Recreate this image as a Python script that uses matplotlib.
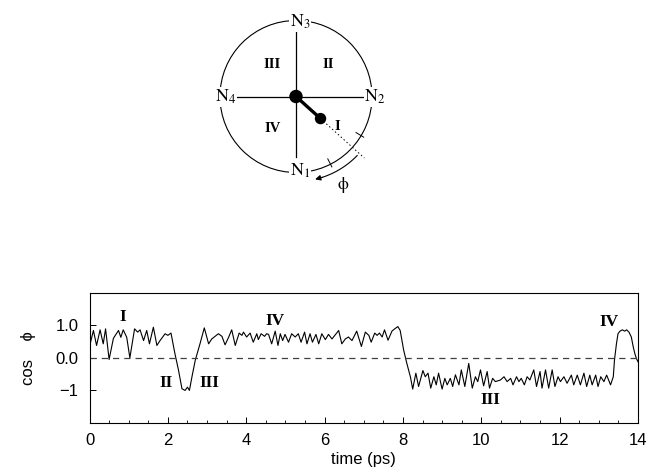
import numpy as np
import matplotlib
matplotlib.use("Agg")
import matplotlib.pyplot as plt
from matplotlib.patches import Circle
from matplotlib.ticker import MultipleLocator

plt.rcParams["font.family"] = ["Liberation Sans", "DejaVu Sans"]
plt.rcParams["mathtext.fontset"] = "stix"

# ---------------- data ----------------
time_ps = [
    0.00, 0.10, 0.18, 0.27, 0.35, 0.41, 0.50, 0.61, 0.74, 0.80, 0.86, 0.95,
    1.03, 1.15, 1.23, 1.29, 1.38, 1.46, 1.53, 1.63, 1.72, 1.80, 1.93, 2.00,
    2.08, 2.18, 2.27, 2.36, 2.44, 2.50, 2.55, 2.62, 2.70, 2.82, 2.93, 3.04,
    3.12, 3.29, 3.38, 3.46, 3.55, 3.63, 3.72, 3.82, 3.89, 3.93, 4.01, 4.10,
    4.18, 4.27, 4.31, 4.38, 4.47, 4.52, 4.57, 4.65, 4.74, 4.81, 4.87, 4.93,
    4.99, 5.08, 5.16, 5.25, 5.33, 5.40, 5.49, 5.55, 5.63, 5.69, 5.78, 5.85,
    5.93, 6.02, 6.10, 6.19, 6.36, 6.44, 6.53, 6.61, 6.70, 6.82, 6.94, 7.04,
    7.13, 7.19, 7.28, 7.34, 7.40, 7.47, 7.53, 7.62, 7.72, 7.79, 7.87, 7.93,
    8.02, 8.10, 8.19, 8.25, 8.33, 8.40, 8.51, 8.57, 8.64, 8.71, 8.79, 8.85,
    8.91, 9.00, 9.07, 9.13, 9.21, 9.27, 9.34, 9.43, 9.49, 9.58, 9.68, 9.77,
    9.85, 9.91, 9.98, 10.06, 10.15, 10.21, 10.29, 10.36, 10.49, 10.58, 10.66,
    10.75, 10.81, 10.90, 10.96, 11.02, 11.10, 11.17, 11.24, 11.34, 11.41,
    11.50, 11.55, 11.64, 11.72, 11.81, 11.88, 11.96, 12.02, 12.11, 12.19,
    12.30, 12.36, 12.45, 12.53, 12.62, 12.69, 12.77, 12.83, 12.92, 12.98,
    13.05, 13.13, 13.20, 13.30, 13.37, 13.40, 13.45, 13.49, 13.54, 13.60,
    13.66, 13.71, 13.77, 13.83, 13.88, 13.92, 13.96, 14.00,
]
cos_phi = [
    0.35, 0.84, 0.38, 0.86, 0.43, 0.89, -0.05, 0.60, 0.84, 0.63, 0.86, 0.63,
    0.00, 0.89, 0.79, 0.86, 0.53, 0.84, 0.43, 0.94, 0.38, 0.53, 0.74, 0.69,
    0.76, 0.13, -0.37, -0.95, -1.00, -0.90, -1.00, -0.55, -0.07, 0.43, 0.92, 0.43,
    0.58, 0.74, 0.66, 0.40, 0.63, 0.86, 0.38, 0.76, 0.69, 0.79, 0.64, 0.76,
    0.48, 0.74, 0.56, 0.74, 0.66, 0.74, 0.72, 0.43, 0.82, 0.38, 0.74, 0.53,
    0.72, 0.48, 0.74, 0.64, 0.74, 0.48, 0.79, 0.43, 0.74, 0.48, 0.72, 0.43,
    0.74, 0.56, 0.72, 0.58, 0.84, 0.43, 0.58, 0.64, 0.53, 0.82, 0.35, 0.79,
    0.69, 0.48, 0.76, 0.69, 0.76, 0.64, 0.86, 0.54, 0.82, 0.89, 0.96, 0.84,
    0.23, -0.17, -0.58, -0.96, -0.47, -0.88, -0.39, -0.58, -0.47, -0.93, -0.58, -0.83,
    -0.47, -0.96, -0.63, -0.83, -0.63, -0.88, -0.52, -0.83, -0.37, -0.88, -0.17, -0.93,
    -0.58, -0.73, -0.37, -0.86, -0.42, -0.93, -0.63, -0.73, -0.68, -0.58, -0.73,
    -0.63, -0.83, -0.58, -0.73, -0.63, -0.83, -0.58, -0.68, -0.37, -0.88,
    -0.42, -0.93, -0.37, -0.93, -0.37, -0.88, -0.58, -0.73, -0.58, -0.78,
    -0.53, -0.83, -0.53, -0.83, -0.47, -0.88, -0.53, -0.83, -0.53, -0.88,
    -0.58, -0.73, -0.53, -0.83, -0.58, -0.07, 0.43, 0.74, 0.82, 0.86,
    0.82, 0.86, 0.79, 0.64, 0.33, 0.13, -0.02, -0.12,
]

x_ticks = [0, 2, 4, 6, 8, 10, 12, 14]
x_tick_labels = ["0", "2", "4", "6", "8", "10", "12", "14"]
y_ticks = [-1, 0, 1]
y_tick_labels = ["\u22121", "0.0", "1.0"]

region_labels = ["I", "II", "III", "IV", "III", "IV"]
region_label_pos = [(0.86, 1.26), (1.95, -0.78), (3.06, -0.78),
                    (4.74, 1.14), (10.23, -1.30), (13.26, 1.10)]

# ---------------- figure ----------------
fig = plt.figure(figsize=(6.51, 4.75), dpi=100)

# schematic (pixel coordinates of the figure)
axd = fig.add_axes([0, 0, 1, 1], zorder=0)
axd.set_xlim(0, 651)
axd.set_ylim(475, 0)
axd.axis("off")

cx, cy, R = 296.0, 96.5, 76.0
axd.add_patch(Circle((cx, cy), R, fill=False, lw=0.8, color="black"))
axd.plot([cx, cx], [cy - 67, cy + 60], color="black", lw=0.9)
axd.plot([cx - 63, cx + 67], [cy, cy], color="black", lw=0.9)

ang = np.deg2rad(42)
sx, sy = cx + 33 * np.cos(ang), cy + 33 * np.sin(ang)
axd.plot([cx, sx], [cy, sy], color="black", lw=2.4, solid_capstyle="round")
axd.plot([sx, cx + 92 * np.cos(ang)], [sy, cy + 92 * np.sin(ang)],
         color="black", lw=0.7, ls=(0, (1.5, 2.5)))
axd.add_patch(Circle((cx, cy), 6.0, color="black", zorder=5))
axd.add_patch(Circle((sx, sy), 5.0, color="black", zorder=5))

for a in (31, 63):
    t = np.deg2rad(a)
    axd.plot([cx + 70 * np.cos(t), cx + 79 * np.cos(t)],
             [cy + 70 * np.sin(t), cy + 79 * np.sin(t)], color="black", lw=0.7)

th = np.deg2rad(np.linspace(44, 72, 40))
axd.plot(cx + 85 * np.cos(th), cy + 85 * np.sin(th), color="black", lw=0.8)
t_end = np.deg2rad(77)
axd.annotate("", xy=(cx + 85 * np.cos(t_end), cy + 85 * np.sin(t_end)),
             xytext=(cx + 85 * np.cos(th[-1]), cy + 85 * np.sin(th[-1])),
             arrowprops=dict(arrowstyle="-|>", color="black", lw=0.8,
                             mutation_scale=8, shrinkA=0, shrinkB=0))
axd.text(343, 185, "\u03d5", fontsize=12.5, family=["STIXGeneral", "DejaVu Sans"],
         ha="center", va="center")

nbox = dict(facecolor="white", edgecolor="none", pad=0.5)
for lab, (px, py) in zip([r"$\mathrm{N}_3$", r"$\mathrm{N}_4$", r"$\mathrm{N}_2$", r"$\mathrm{N}_1$"],
                         [(300, 22), (226, 97), (375, 97), (300, 171)]):
    axd.text(px, py, lab, fontsize=13, ha="center", va="center", bbox=nbox, zorder=6)

for lab, (px, py) in zip(["III", "II", "IV", "I"],
                         [(272, 65), (328, 65), (273, 128), (337, 126)]):
    axd.text(px, py, lab, fontsize=10.5, fontweight="bold",
             family="Liberation Serif", ha="center", va="center")

# time series panel
ax = fig.add_axes([0.1375, 0.1095, 0.8425, 0.2743], zorder=1)
ax.patch.set_alpha(0)
ax.plot(time_ps, cos_phi, color="black", lw=0.8, solid_joinstyle="round")
ax.axhline(0, color="0.25", lw=0.9, ls=(0, (5, 4)))

ax.set_xlim(0, 14)
ax.set_ylim(-2, 2)
ax.set_xticks(x_ticks)
ax.set_xticklabels(x_tick_labels)
ax.set_yticks(y_ticks)
ax.set_yticklabels(y_tick_labels)
ax.xaxis.set_minor_locator(MultipleLocator(0.5))
ax.tick_params(axis="both", which="major", direction="in", length=4, width=0.7,
               labelsize=12, top=False, right=False)
ax.tick_params(axis="x", which="major", pad=7)
ax.tick_params(axis="y", which="major", pad=8)
ax.tick_params(axis="x", which="minor", direction="in", length=2.2, width=0.6)
for s in ax.spines.values():
    s.set_linewidth(0.8)

ax.set_xlabel("time (ps)", fontsize=12, labelpad=3)
ax.set_ylabel("cos    \u03d5", fontsize=12, labelpad=14,
              family=["Liberation Sans", "STIXGeneral", "DejaVu Sans"])

for lab, (px, py) in zip(region_labels, region_label_pos):
    ax.text(px, py, lab, fontsize=12.5, fontweight="bold",
            family="Liberation Serif", ha="center", va="center")

fig.savefig("out.png", dpi=100)
